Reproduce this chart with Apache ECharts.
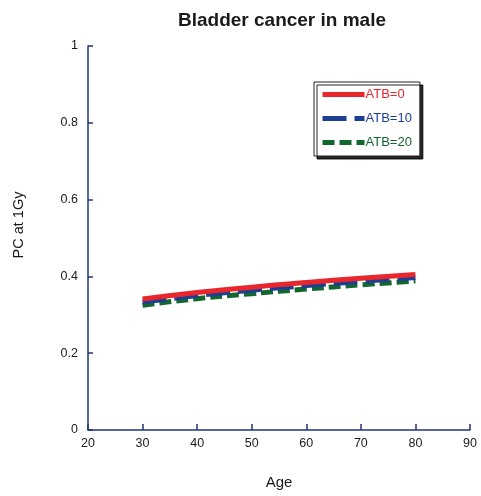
<!DOCTYPE html>
<html>
<head>
<meta charset="utf-8">
<script src="https://cdn.jsdelivr.net/npm/echarts@6/dist/echarts.min.js"></script>
<style>
  html, body { margin: 0; padding: 0; background: #fff; }
  #chart { width: 481px; height: 496px; }
</style>
</head>
<body>
<div id="chart"></div>
<script>
// Age points at which the probability of causation is evaluated
const ages = [30, 40, 50, 60, 70, 80];
// PC at 1 Gy for three ages-at-exposure settings
const atb0 = [0.341, 0.358, 0.372, 0.384, 0.395, 0.405];
const atb10 = [0.333, 0.350, 0.364, 0.376, 0.387, 0.397];
const atb20 = [0.325, 0.342, 0.355, 0.367, 0.378, 0.388];
const seriesNames = ['ATB=0', 'ATB=10', 'ATB=20'];
const seriesColors = ['#e8262b', '#1c3f94', '#13662e'];
const yTicks = [0, 0.2, 0.4, 0.6, 0.8, 1];
const xTicks = [20, 30, 40, 50, 60, 70, 80, 90];

const axisColor = '#23357a';
const font = 'Liberation Sans, Arial, sans-serif';

function pairs(vals) { return ages.map((a, i) => [a, vals[i]]); }

const chart = echarts.init(document.getElementById('chart'));
chart.setOption({
  animation: false,
  title: {
    text: 'Bladder cancer in male',
    left: 277, top: 6, textAlign: 'center',
    textStyle: { fontFamily: font, fontSize: 19, fontWeight: 'bold', color: '#1a1a1a' }
  },
  grid: { left: 88, right: 11, top: 46, bottom: 66 },
  legend: {
    orient: 'vertical',
    left: 314, top: 82,
    width: 103,
    padding: [6, 8, 7, 6],
    itemGap: 11,
    itemWidth: 42, itemHeight: 14,
    backgroundColor: '#fff',
    borderColor: '#222', borderWidth: 1,
    shadowColor: 'rgba(0,0,0,0.85)', shadowOffsetX: 3, shadowOffsetY: 3, shadowBlur: 0,
    itemStyle: { opacity: 0 },
    lineStyle: { width: 5 },
    textStyle: { fontFamily: font, fontSize: 13, padding: [0, 0, 0, -4] },
    data: seriesNames.map((n, i) => ({ name: n, textStyle: { color: seriesColors[i] } }))
  },
  xAxis: {
    type: 'value', min: 20, max: 90, interval: 10,
    name: 'Age', nameLocation: 'middle', nameGap: 45,
    nameTextStyle: { fontFamily: font, fontSize: 15, color: '#1a1a1a' },
    axisLine: { lineStyle: { color: axisColor, width: 1.5 } },
    axisTick: { inside: true, length: 6, lineStyle: { color: axisColor, width: 1.5 } },
    axisLabel: { fontFamily: font, fontSize: 12.5, color: '#1a1a1a', margin: 7,
      formatter: v => xTicks.includes(v) ? String(v) : '' },
    splitLine: { show: false }
  },
  yAxis: {
    type: 'value', min: 0, max: 1, interval: 0.2,
    name: 'PC at 1Gy', nameLocation: 'middle', nameGap: 62,
    nameTextStyle: { fontFamily: font, fontSize: 14.5, color: '#1a1a1a', padding: [0, 0, 0, 26] },
    axisLine: { show: true, lineStyle: { color: axisColor, width: 1.5 } },
    axisTick: { show: true, inside: true, length: 5, lineStyle: { color: axisColor, width: 1.5 } },
    axisLabel: { fontFamily: font, fontSize: 12.5, color: '#1a1a1a', margin: 10,
      formatter: v => yTicks.includes(+v.toFixed(1)) ? String(+v.toFixed(1)) : '' },
    splitLine: { show: false }
  },
  series: [
    { name: seriesNames[0], type: 'line', data: pairs(atb0), smooth: true, symbol: 'none', z: 4,
      lineStyle: { color: seriesColors[0], width: 5, type: 'solid' }, itemStyle: { color: seriesColors[0] } },
    { name: seriesNames[1], type: 'line', data: pairs(atb10), smooth: true, symbol: 'none', z: 3,
      lineStyle: { color: seriesColors[1], width: 5, type: [24, 8] }, itemStyle: { color: seriesColors[1] } },
    { name: seriesNames[2], type: 'line', data: pairs(atb20), smooth: true, symbol: 'none', z: 2,
      lineStyle: { color: seriesColors[2], width: 5, type: [12, 5] }, itemStyle: { color: seriesColors[2] } }
  ]
});
</script>
</body>
</html>
